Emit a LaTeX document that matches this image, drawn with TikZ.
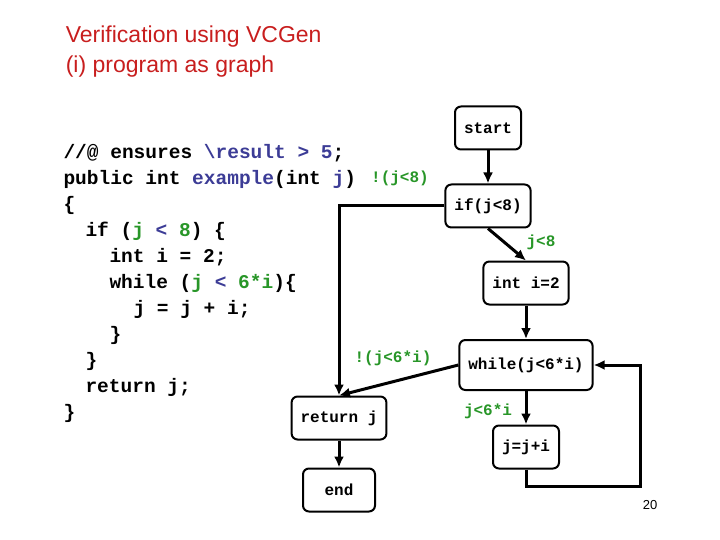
\documentclass[tikz,border=0pt]{standalone}
\usepackage{fontspec}
\setmainfont{Liberation Sans}
\newfontfamily\codefont{Liberation Mono}
\usetikzlibrary{arrows.meta,positioning}
\definecolor{titlered}{RGB}{200,30,30}
\definecolor{kwblue}{RGB}{60,60,150}
\definecolor{condgreen}{RGB}{40,150,40}
\tikzset{>={Latex[width=10pt,length=11pt]}}
\tikzstyle{stmt-box}=[rectangle, rounded corners=6pt, draw=black, line width=2pt, minimum height=43pt, inner xsep=9pt, font=\codefont\bfseries\fontsize{16}{16}\selectfont]
\tikzstyle{cond}=[text=condgreen, font=\codefont\bfseries\fontsize{16}{16}\selectfont]
\tikzstyle{code}=[anchor=west, inner sep=0pt, font=\codefont\bfseries\fontsize{19.5}{19.5}\selectfont]

\begin{document}
\begin{tikzpicture}[x=1pt, y=-1pt, line width=3pt]
	\useasboundingbox (0,0) rectangle (720,540);

	% title
	\node[anchor=west, text=titlered, font=\fontsize{23}{23}\selectfont] (title1) at (61,37) {Verification using VCGen};
	\node[anchor=west, text=titlered, font=\fontsize{23}{23}\selectfont] (title2) at (61,67) {(i) program as graph};

	% source code
	\node[code] (l1) at (62,153) {//@ ensures \textcolor{kwblue}{\textbackslash result > 5};};
	\node[code] (l2) at (62,179) {public int \textcolor{kwblue}{example}(int \textcolor{kwblue}{j})};
	\node[code] (l3) at (62,205) {\{};
	\node[code] (l4) at (84,231) {if (\textcolor{condgreen}{j} \textcolor{kwblue}{<} \textcolor{condgreen}{8}) \{};
	\node[code] (l5) at (108,257) {int i = 2;};
	\node[code] (l6) at (108,283) {while (\textcolor{condgreen}{j} \textcolor{kwblue}{<} \textcolor{condgreen}{6*i})\{};
	\node[code] (l7) at (132,309) {j = j + i;};
	\node[code] (l8) at (108,335) {\}};
	\node[code] (l9) at (84,361) {\}};
	\node[code] (l10) at (84,387) {return j;};
	\node[code] (l11) at (62,413) {\}};

	% graph
	\node[stmt-box] (start) at (488,128) {start};
	\node[stmt-box] (if) at (488,206) {if(j<8)};
	\node[stmt-box] (init) at (526,283) {int i=2};
	\node[stmt-box, minimum height=50pt] (while) at (526,365) {while(j<6*i)};
	\node[stmt-box] (ret) at (339,418) {return j};
	\node[stmt-box] (body) at (526,447) {j=j+i};
	\node[stmt-box, minimum width=72pt] (end) at (339,490) {end};
	\coordinate (loopa) at (526,486);
	\coordinate (loopb) at (640,486);
	\coordinate (loopc) at (640,365);

	\draw[->] (start) -- (if);
	\draw[->] (if.south) -- (init.north);
	\draw[->] (init) -- (while);
	\draw[->] (while) -- (body);
	\draw[->] (ret) -- (end);
	\draw[->] (if.west) -| (ret.north);
	\draw[->] (while.west) -- (ret.north);
	\draw[->] (body.south) -- (loopa) -- (loopb) -- (loopc) -- (while.east);

	% branch labels
	\node[cond] (notlt8) at (400,178) {!(j<8)};
	\node[cond] (lt8) at (541,242) {j<8};
	\node[cond] (notlt6i) at (393,358) {!(j<6*i)};
	\node[cond] (lt6i) at (488,411) {j<6*i};

	\node[font=\fontsize{13}{13}\selectfont] (page) at (650,505) {20};
\end{tikzpicture}
\end{document}
